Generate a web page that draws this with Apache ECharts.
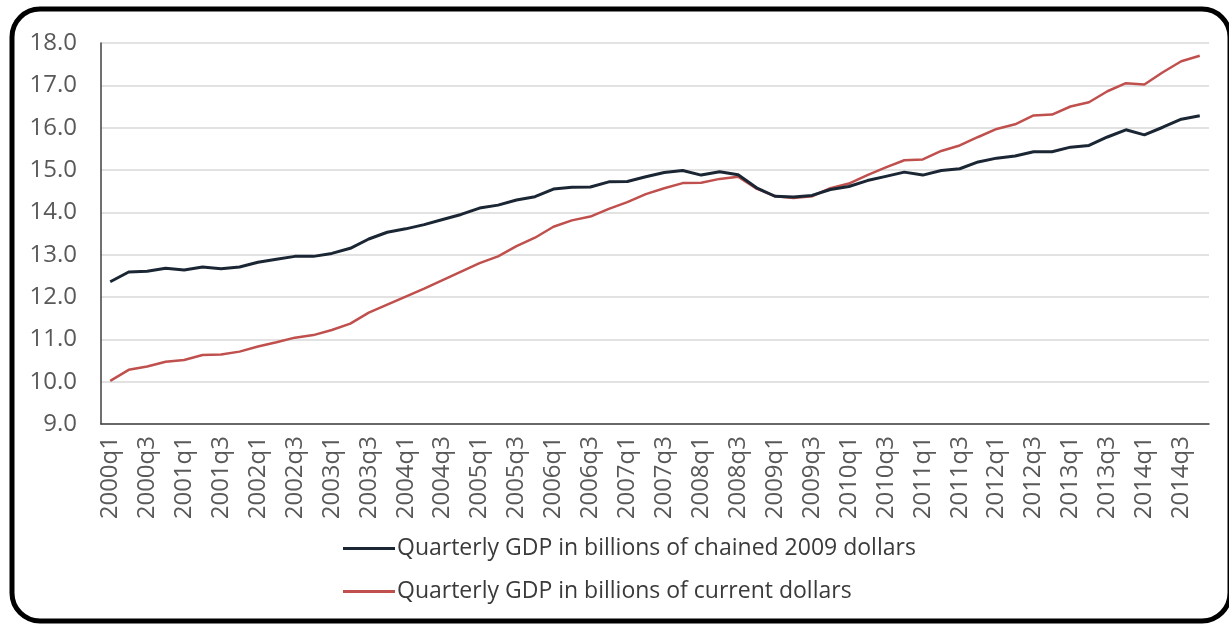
<!DOCTYPE html>
<html>
<head>
<meta charset="utf-8">
<script src="https://cdn.jsdelivr.net/npm/echarts@6/dist/echarts.min.js"></script>
<style>
  html, body { margin: 0; padding: 0; background: #fff; }
  #chart { width: 1229px; height: 624px; }
</style>
</head>
<body>
<div id="chart"></div>
<script>
// Quarter labels 2000q1 .. 2014q4
const categories = [
  '2000q1','2000q2','2000q3','2000q4','2001q1','2001q2','2001q3','2001q4',
  '2002q1','2002q2','2002q3','2002q4','2003q1','2003q2','2003q3','2003q4',
  '2004q1','2004q2','2004q3','2004q4','2005q1','2005q2','2005q3','2005q4',
  '2006q1','2006q2','2006q3','2006q4','2007q1','2007q2','2007q3','2007q4',
  '2008q1','2008q2','2008q3','2008q4','2009q1','2009q2','2009q3','2009q4',
  '2010q1','2010q2','2010q3','2010q4','2011q1','2011q2','2011q3','2011q4',
  '2012q1','2012q2','2012q3','2012q4','2013q1','2013q2','2013q3','2013q4',
  '2014q1','2014q2','2014q3','2014q4'
];

// GDP, chained 2009 dollars (thousands of billions)
const realGdp = [
  12.36, 12.59, 12.61, 12.68,
  12.64, 12.71, 12.67, 12.71,
  12.82, 12.89, 12.96, 12.96,
  13.03, 13.15, 13.37, 13.53,
  13.61, 13.71, 13.83, 13.95,
  14.10, 14.17, 14.29, 14.37,
  14.55, 14.59, 14.60, 14.72,
  14.73, 14.84, 14.94, 14.99,
  14.88, 14.96, 14.89, 14.58,
  14.38, 14.36, 14.40, 14.54,
  14.61, 14.75, 14.85, 14.95,
  14.88, 14.99, 15.03, 15.19,
  15.28, 15.33, 15.43, 15.43,
  15.54, 15.58, 15.78, 15.95,
  15.83, 16.01, 16.20, 16.28
];

// GDP, current dollars (thousands of billions)
const nominalGdp = [
  10.02, 10.28, 10.36, 10.47,
  10.51, 10.63, 10.64, 10.71,
  10.83, 10.93, 11.04, 11.10,
  11.22, 11.37, 11.63, 11.82,
  12.01, 12.20, 12.40, 12.60,
  12.80, 12.96, 13.20, 13.40,
  13.66, 13.81, 13.90, 14.08,
  14.24, 14.43, 14.57, 14.69,
  14.70, 14.79, 14.84, 14.56,
  14.38, 14.34, 14.38, 14.57,
  14.68, 14.88, 15.06, 15.23,
  15.25, 15.45, 15.58, 15.78,
  15.97, 16.08, 16.29, 16.31,
  16.50, 16.60, 16.86, 17.05,
  17.02, 17.31, 17.57, 17.70
];

const seriesNames = [
  'Quarterly GDP in billions of chained 2009 dollars',
  'Quarterly GDP in billions of current dollars'
];

const yTicks = { min: 9, max: 18, step: 1 };

const chart = echarts.init(document.getElementById('chart'), null, { renderer: 'canvas' });

const FONT = '"Open Sans", "Liberation Sans", sans-serif';

chart.setOption({
  backgroundColor: '#ffffff',
  animation: false,
  textStyle: { fontFamily: FONT },
  graphic: [{
    type: 'rect',
    z: 100,
    silent: true,
    shape: { x: 12, y: 9, width: 1218, height: 612, r: 28 },
    style: { fill: 'none', stroke: '#000000', lineWidth: 5 }
  }],
  grid: { left: 101, right: 20, top: 43, bottom: 200, containLabel: false },
  legend: {
    orient: 'vertical',
    left: 338,
    top: 532,
    itemWidth: 52,
    itemHeight: 3,
    itemGap: 20,
    icon: 'rect',
    textStyle: { fontFamily: FONT, fontSize: 23, color: '#3a3a3a', padding: [0, 0, 0, -3] },
    data: seriesNames
  },
  xAxis: {
    type: 'category',
    data: categories,
    boundaryGap: true,
    axisLine: { show: true, lineStyle: { color: '#404040', width: 1.5 } },
    axisTick: { show: false },
    axisLabel: {
      interval: 1,
      rotate: 90,
      margin: 12,
      fontFamily: FONT,
      fontSize: 24,
      color: '#595959'
    },
    splitLine: { show: false }
  },
  yAxis: {
    type: 'value',
    min: yTicks.min,
    max: yTicks.max,
    interval: yTicks.step,
    axisLine: { show: true, lineStyle: { color: '#404040', width: 1.5 } },
    axisTick: { show: false },
    axisLabel: {
      margin: 24,
      fontFamily: FONT,
      fontSize: 24,
      color: '#595959',
      formatter: v => v.toFixed(1)
    },
    splitLine: { show: true, lineStyle: { color: '#d9d9d9', width: 1.5 } }
  },
  series: [
    {
      name: seriesNames[0],
      type: 'line',
      data: realGdp,
      symbol: 'none',
      showSymbol: false,
      lineStyle: { color: '#1a2633', width: 3 },
      itemStyle: { color: '#1a2633' },
      z: 3
    },
    {
      name: seriesNames[1],
      type: 'line',
      data: nominalGdp,
      symbol: 'none',
      showSymbol: false,
      lineStyle: { color: '#c0504d', width: 2.5 },
      itemStyle: { color: '#c0504d' },
      z: 2
    }
  ]
});
</script>
</body>
</html>
